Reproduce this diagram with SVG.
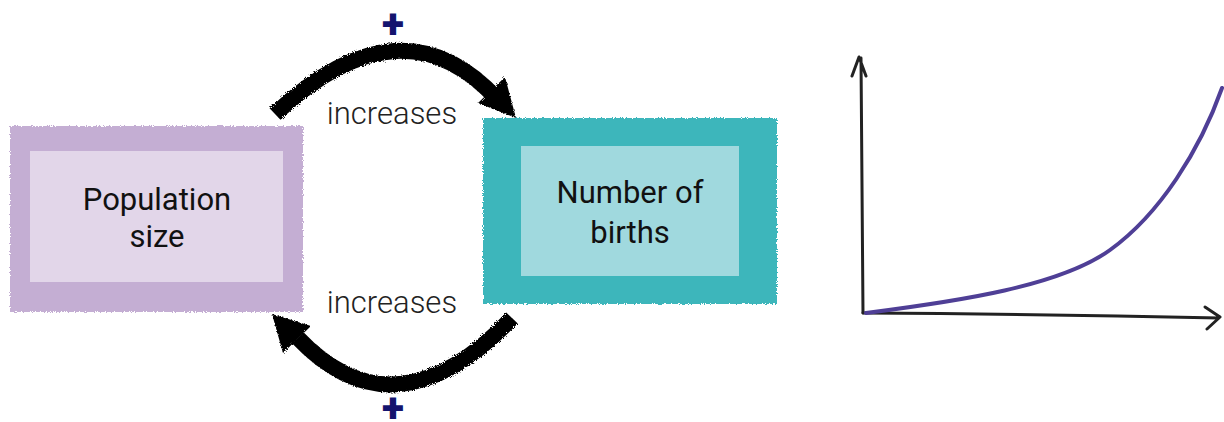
<svg xmlns="http://www.w3.org/2000/svg" width="1224" height="422" viewBox="0 0 1224 422">
<style>
.lbl{font-family:Roboto,"Liberation Sans",sans-serif;font-size:31px;fill:#111;text-anchor:middle}
.inc{font-family:Roboto,"Liberation Sans",sans-serif;font-weight:300;font-size:31px;fill:#222;text-anchor:middle}
.plus{font-family:Roboto,"Liberation Sans",sans-serif;font-weight:900;font-size:41px;fill:#14146e;text-anchor:middle}
.arr{fill:none;stroke:#000;stroke-width:16;stroke-linecap:butt}
.axis{fill:none;stroke:#222;stroke-width:3;stroke-linecap:round;stroke-linejoin:round}
</style>
<defs>
<filter id="rough" x="-5%" y="-5%" width="110%" height="110%">
<feTurbulence type="fractalNoise" baseFrequency="0.9" numOctaves="2" seed="3" result="n"/>
<feDisplacementMap in="SourceGraphic" in2="n" scale="4"/>
</filter>
</defs>
<rect width="1224" height="422" fill="#fff"/>
<g id="population-size">
<rect x="10" y="126" width="293" height="186" fill="#c4aed3" filter="url(#rough)"/>
<rect x="30" y="151" width="253" height="131" fill="#e2d6e9"/>
<text class="lbl" x="157" y="210">Population</text>
<text class="lbl" x="157" y="247">size</text>
</g>
<g id="number-of-births">
<rect x="483" y="118" width="294" height="186" fill="#3db6bb" filter="url(#rough)"/>
<rect x="521" y="146" width="218" height="130" fill="#a0d9de"/>
<text class="lbl" x="630" y="203">Number of</text>
<text class="lbl" x="630" y="243">births</text>
</g>
<g id="connectors">
<g filter="url(#rough)">
<path class="arr" d="M275 114 Q402 -5 498 100"/>
<polygon points="516,118 505,77 478,103"/>
<path class="arr" d="M512 318 Q395 440 298 338"/>
<polygon points="272,314 311,326 283,353"/>
</g>
<text class="inc" x="392" y="124">increases</text>
<text class="inc" x="392" y="313">increases</text>
<text class="plus" x="393" y="38">+</text>
<text class="plus" x="393" y="422">+</text>
</g>
<g id="graph">
<path class="axis" d="M863 313 L861 58 M852 76 L859 57 L866 76"/>
<path class="axis" d="M863 313 Q1040 314 1219 318 M1205 307 L1220 317 L1207 329"/>
<path d="M866 313 C960 301 1060 286 1110 250 C1160 214 1200 150 1222 88" fill="none" stroke="#4f3f96" stroke-width="4" stroke-linecap="round"/>
</g>
</svg>
